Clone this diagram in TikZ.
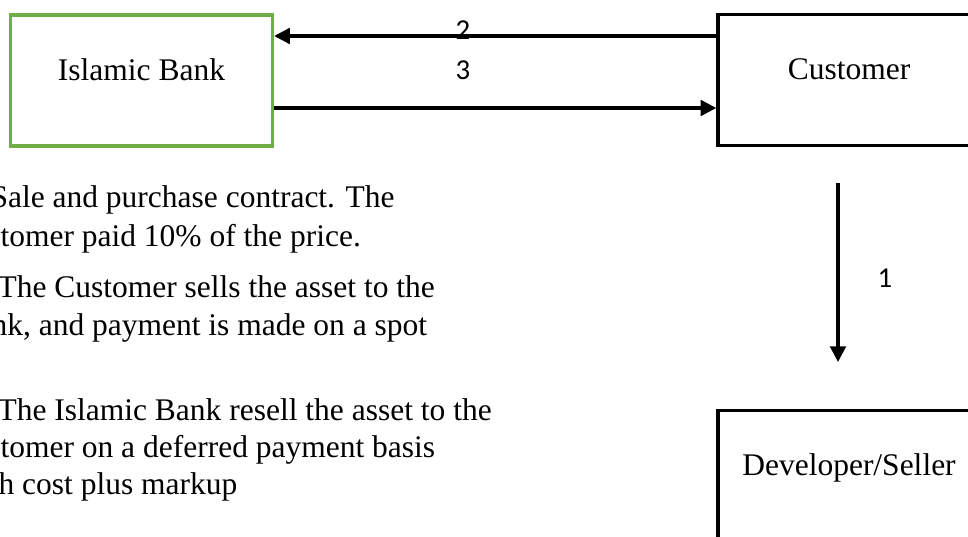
\documentclass[tikz,border=0pt]{standalone}
\usepackage{fontspec}
\setmainfont{Liberation Serif}
\newfontfamily\numfont{Carlito}
\usetikzlibrary{arrows.meta,positioning}
\definecolor{bankgreen}{HTML}{70AD47}

\begin{document}
\begin{tikzpicture}[x=0.381pt,y=-0.381pt,>={Triangle[length=6pt,width=6pt]},
        box/.style={draw,line width=1.3pt,minimum width=99.8pt,minimum height=49.8pt,
          inner sep=0pt,text height=8pt,text depth=8pt,font=\fontsize{12}{14}\selectfont},
        flow/.style={->,line width=1.15pt},
        num/.style={inner sep=0pt,font=\numfont\fontsize{11}{13}\selectfont},
        note/.style={anchor=base west,inner sep=0pt,font=\fontsize{12}{14}\selectfont}]

  \useasboundingbox (0,0) rectangle (968,537);
  \clip (0,0) rectangle (968,537);

  \node[box,draw=bankgreen] (bank) at (141.5,80.5) {Islamic Bank};
  \node[box] (cust) at (849,80) {Customer};
  \node[box] (dev) at (849,476) {Developer/Seller};

  \coordinate (top2) at (cust.west |- 0,36);
  \coordinate (low3) at (bank.east |- 0,108);
  \coordinate (a1s) at (838,183);
  \coordinate (a1e) at (838,362);

  \draw[flow] (top2) -- (top2 -| bank.east);
  \draw[flow] (low3) -- (low3 -| cust.west);
  \draw[flow] (a1s) -- (a1e);

  \node[num] (n2) at (463,30) {2};
  \node[num] (n3) at (463,70) {3};
  \node[num] (n1) at (885,278) {1};

  \node[note] (t1) at (-10,208) {Sale and purchase contract. The};
  \node[note] (t2) at (0,247) {tomer paid 10\% of the price.};
  \node[note] (t3) at (-3,298) {The Customer sells the asset to the};
  \node[note] (t4) at (-9,336) {nk, and payment is made on a spot};
  \node[note] (t5) at (-3,421) {The Islamic Bank resell the asset to the};
  \node[note] (t6) at (0,458) {tomer on a deferred payment basis};
  \node[note] (t7) at (-2,495) {h cost plus markup};

\end{tikzpicture}
\end{document}
